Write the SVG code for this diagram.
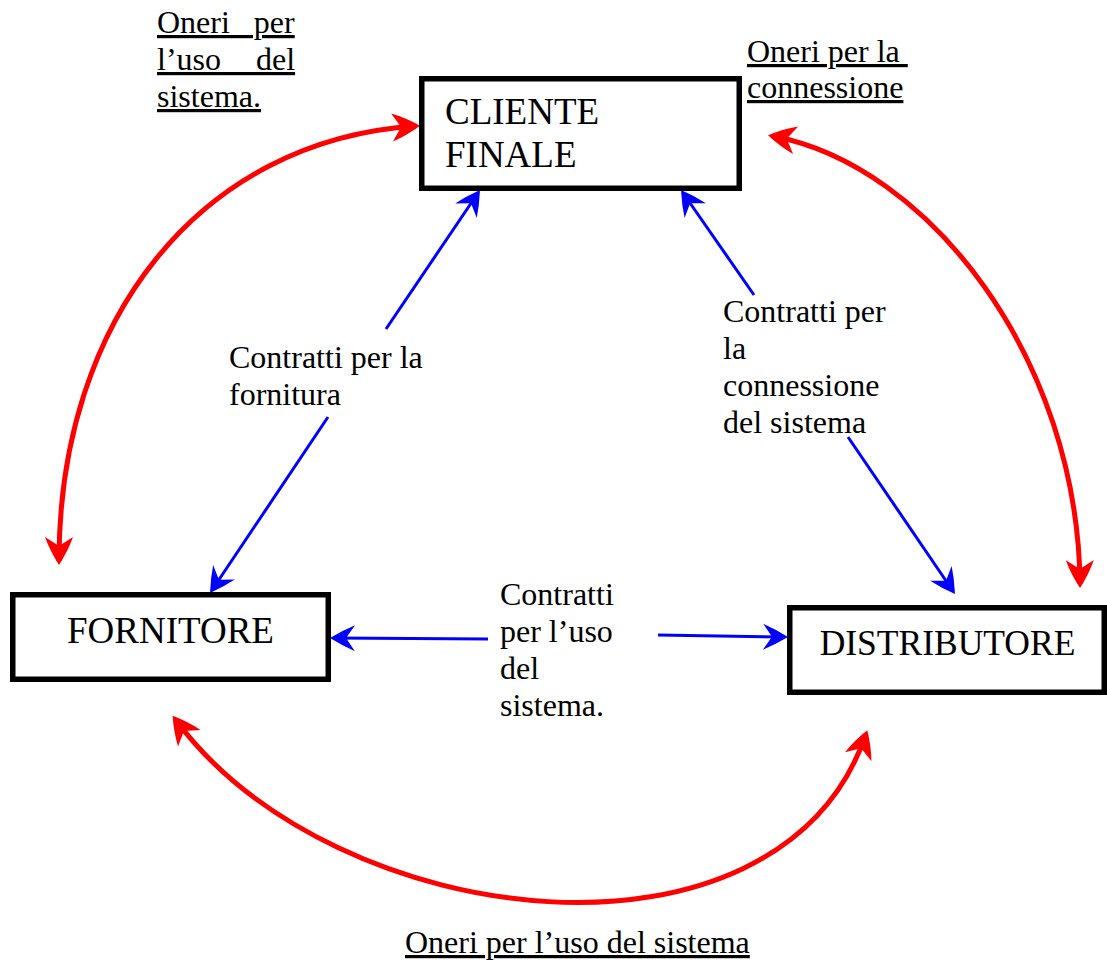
<svg xmlns="http://www.w3.org/2000/svg" width="1107" height="962" viewBox="0 0 1107 962">
<style>
.box{fill:#fff;stroke:#000;stroke-width:5.5}
.big{font-family:"Liberation Serif","Times New Roman",serif;font-size:37px;fill:#000}
.lbl{font-family:"Liberation Serif","Times New Roman",serif;font-size:32px;fill:#000}
.ul{text-decoration:underline}
.red{fill:none;stroke:#ff0000;stroke-width:5;marker-start:url(#ra);marker-end:url(#ra)}
.blue{fill:none;stroke:#0000ff;stroke-width:3;marker-end:url(#ba)}
</style>
<defs>
<marker id="ra" markerUnits="userSpaceOnUse" markerWidth="40" markerHeight="40" refX="24" refY="14" orient="auto-start-reverse" overflow="visible">
<path d="M28,14 Q14,5 0,0 L9,14 L0,28 Q14,23 28,14 Z" fill="#ff0000"/>
</marker>
<marker id="ba" markerUnits="userSpaceOnUse" markerWidth="40" markerHeight="40" refX="22" refY="13" orient="auto" overflow="visible">
<path d="M25,13 Q12,5 0,0 L9,13 L0,26 Q12,21 25,13 Z" fill="#0000ff"/>
</marker>
</defs>

<g id="connectors">
<path class="red" d="M59,561 C59,320 200,140 416,126"/>
<path class="red" d="M772,136 C930,165 1078,360 1080,584"/>
<path class="red" d="M175,719 C335,935 780,985 866,734"/>
<path class="blue" d="M386,329 L478.3,192.5"/>
<path class="blue" d="M328,417 L211.7,590.5"/>
<path class="blue" d="M754,295 L682.7,192.5"/>
<path class="blue" d="M848,437 L953.3,591.5"/>
<path class="blue" d="M488,639 L333,638"/>
<path class="blue" d="M658,635 L785,637"/>
</g>

<g id="cliente-finale">
<rect class="box" x="421.75" y="78.75" width="317.5" height="109.5"/>
<text class="big" x="445" y="124">CLIENTE</text>
<text class="big" x="445" y="167">FINALE</text>
</g>

<g id="fornitore">
<rect class="box" x="12.75" y="594.75" width="315.5" height="84.5"/>
<text class="big" x="170.5" y="643" text-anchor="middle">FORNITORE</text>
</g>

<g id="distributore">
<rect class="box" x="789.75" y="607.75" width="314.5" height="84.5"/>
<text class="big" x="947.5" y="655" text-anchor="middle" style="font-size:35.5px">DISTRIBUTORE</text>
</g>

<g id="labels">
<text class="lbl ul" x="157" y="33" style="word-spacing:16px">Oneri per</text>
<text class="lbl ul" x="157" y="70" style="word-spacing:27px">l’uso del</text>
<text class="lbl ul" x="157" y="107">sistema.</text>

<text class="lbl ul" x="747" y="62" xml:space="preserve">Oneri per la </text>
<text class="lbl ul" x="747" y="98">connessione</text>

<text class="lbl ul" x="405" y="953">Oneri per l’uso del sistema</text>

<text class="lbl" x="229" y="368">Contratti per la</text>
<text class="lbl" x="229" y="405">fornitura</text>

<text class="lbl" x="723" y="322">Contratti per</text>
<text class="lbl" x="723" y="359">la</text>
<text class="lbl" x="723" y="396">connessione</text>
<text class="lbl" x="723" y="433">del sistema</text>

<text class="lbl" x="500" y="605">Contratti</text>
<text class="lbl" x="500" y="642">per l’uso</text>
<text class="lbl" x="500" y="679">del</text>
<text class="lbl" x="500" y="716">sistema.</text>
</g>
</svg>
